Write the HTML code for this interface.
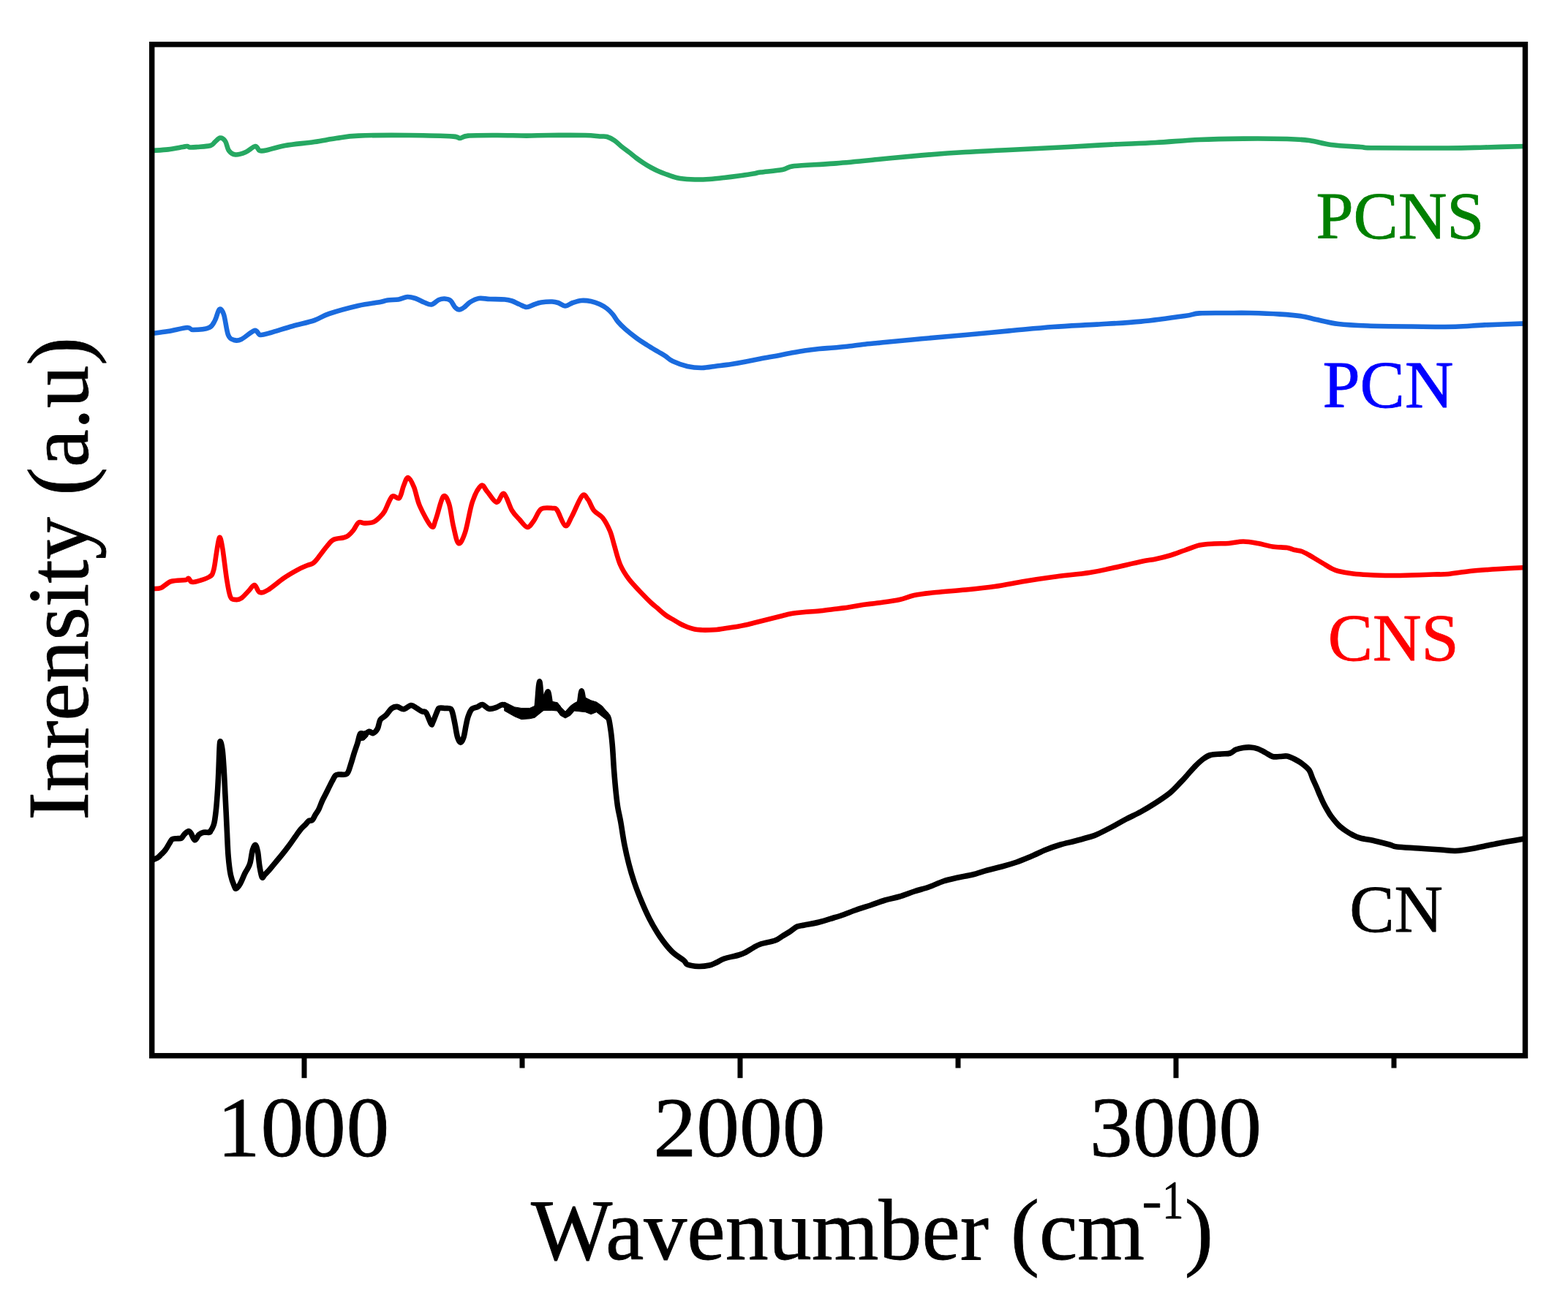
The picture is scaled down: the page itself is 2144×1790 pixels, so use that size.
<!DOCTYPE html>
<html><head><meta charset="utf-8"><title>FTIR spectra</title>
<style>
html,body{margin:0;padding:0;background:#fff;}
body{width:2144px;height:1790px;overflow:hidden;}
svg{display:block;}
text{font-family:"Liberation Serif","Times New Roman",serif;stroke-width:0.8px;stroke-linejoin:round;}
</style></head>
<body>
<svg width="2144" height="1790" viewBox="0 0 2144 1790">
<rect x="0" y="0" width="2144" height="1790" fill="#fff"/>
<defs><clipPath id="plot"><rect x="207.7" y="60.75" width="1877.8" height="1382.9"/></clipPath></defs>
<g clip-path="url(#plot)" fill="none" stroke-linejoin="round" stroke-linecap="round">
<path d="M208.0,206.0 C211.7,205.7 223.0,205.2 230.0,204.4 C237.0,203.6 245.7,201.7 250.0,201.0 C254.3,200.3 254.3,199.9 256.0,200.0 C257.7,200.1 257.7,201.3 260.0,201.5 C262.3,201.7 265.3,201.4 270.0,201.0 C274.7,200.6 284.0,200.2 288.0,199.0 C292.0,197.8 291.8,195.8 294.0,194.0 C296.2,192.2 298.7,188.7 301.0,188.5 C303.3,188.3 306.0,190.1 308.0,193.0 C310.0,195.9 310.7,202.9 313.0,206.0 C315.3,209.1 318.2,211.2 322.0,211.5 C325.8,211.8 331.5,209.9 336.0,208.0 C340.5,206.1 345.8,200.3 349.0,200.0 C352.2,199.7 352.5,205.1 355.0,206.0 C357.5,206.9 358.2,206.8 364.0,205.6 C369.8,204.4 379.0,200.9 390.0,199.0 C401.0,197.1 418.3,195.7 430.0,194.0 C441.7,192.3 450.0,190.4 460.0,189.0 C470.0,187.6 473.3,186.3 490.0,185.6 C506.7,184.9 538.3,184.8 560.0,185.0 C581.7,185.2 608.5,185.9 620.0,186.6 C629.0,187.3 625.7,189.2 629.0,189.0 C632.3,188.8 631.5,186.3 640.0,185.6 C648.5,184.9 666.7,185.0 680.0,185.0 C693.3,185.0 708.3,185.6 720.0,185.6 C731.7,185.6 736.7,185.1 750.0,185.0 C763.3,184.9 788.3,184.8 800.0,185.0 C811.7,185.2 815.0,186.2 820.0,186.5 C825.0,186.8 826.7,186.1 830.0,187.0 C833.3,187.9 836.7,189.8 840.0,192.0 C843.3,194.2 846.7,197.8 850.0,200.5 C853.3,203.2 856.7,205.4 860.0,208.0 C863.3,210.6 866.7,213.5 870.0,216.0 C873.3,218.5 876.7,220.8 880.0,223.0 C883.3,225.2 886.7,227.2 890.0,229.0 C893.3,230.8 896.7,232.5 900.0,234.0 C903.3,235.5 906.7,236.8 910.0,238.0 C913.3,239.2 916.7,240.5 920.0,241.5 C923.3,242.5 925.0,243.3 930.0,244.0 C935.0,244.7 943.3,245.3 950.0,245.5 C956.7,245.7 963.3,245.4 970.0,245.0 C976.7,244.6 983.3,243.8 990.0,243.0 C996.7,242.2 1003.3,241.4 1010.0,240.5 C1016.7,239.6 1025.0,238.3 1030.0,237.5 C1035.0,236.7 1033.3,236.5 1040.0,235.6 C1046.7,234.7 1062.3,233.4 1070.0,232.0 C1077.7,230.6 1074.3,228.4 1086.0,227.0 C1097.7,225.6 1121.0,225.1 1140.0,223.6 C1159.0,222.1 1180.0,219.9 1200.0,218.0 C1220.0,216.1 1240.0,214.1 1260.0,212.4 C1280.0,210.7 1300.0,209.2 1320.0,208.0 C1340.0,206.8 1356.7,206.2 1380.0,205.0 C1403.3,203.8 1436.7,202.2 1460.0,201.0 C1483.3,199.8 1500.0,198.6 1520.0,197.6 C1540.0,196.6 1560.0,196.1 1580.0,195.0 C1600.0,193.9 1620.0,191.9 1640.0,191.0 C1660.0,190.1 1680.0,189.8 1700.0,189.6 C1720.0,189.4 1745.0,189.6 1760.0,190.0 C1775.0,190.4 1780.0,190.7 1790.0,192.0 C1800.0,193.3 1808.3,196.5 1820.0,198.0 C1831.7,199.5 1850.0,200.3 1860.0,201.0 C1870.0,201.7 1860.0,202.1 1880.0,202.3 C1900.0,202.6 1955.0,202.6 1980.0,202.5 C2005.0,202.4 2012.3,201.9 2030.0,201.5 C2047.7,201.1 2076.7,200.2 2086.0,200.0" stroke="#26a862" stroke-width="6.6" />
<path d="M208.0,456.0 C211.7,455.5 222.0,454.3 230.0,453.0 C238.0,451.7 250.3,448.3 256.0,448.0 C261.7,447.7 259.0,451.0 264.0,451.0 C269.0,451.0 281.0,450.2 286.0,448.0 C291.0,445.8 291.7,442.2 294.0,438.0 C296.3,433.8 298.0,424.3 300.0,423.0 C302.0,421.7 304.0,424.2 306.0,430.0 C308.0,435.8 309.7,452.2 312.0,458.0 C314.3,463.8 317.0,464.0 320.0,465.0 C323.0,466.0 325.3,466.2 330.0,464.0 C334.7,461.8 343.7,453.0 348.0,452.0 C352.3,451.0 352.3,457.5 356.0,458.0 C359.7,458.5 362.7,457.0 370.0,455.0 C377.3,453.0 390.0,448.8 400.0,446.0 C410.0,443.2 421.7,440.8 430.0,438.0 C438.3,435.2 440.0,432.3 450.0,429.0 C460.0,425.7 478.3,420.7 490.0,418.0 C501.7,415.3 513.3,414.2 520.0,413.0 C526.7,411.8 525.8,411.1 530.0,410.5 C534.2,409.9 540.5,410.2 545.0,409.5 C549.5,408.8 553.2,406.2 557.0,406.0 C560.8,405.8 564.2,406.8 568.0,408.0 C571.8,409.2 576.3,412.1 580.0,413.5 C583.7,414.9 586.7,417.1 590.0,416.5 C593.3,415.9 597.0,411.3 600.0,410.0 C603.0,408.7 605.3,408.3 608.0,408.5 C610.7,408.7 613.7,409.1 616.0,411.0 C618.3,412.9 620.0,417.9 622.0,420.0 C624.0,422.1 625.8,423.5 628.0,423.5 C630.2,423.5 632.5,421.8 635.0,420.0 C637.5,418.2 639.7,415.0 643.0,413.0 C646.3,411.0 650.5,408.7 655.0,408.0 C659.5,407.3 664.2,408.8 670.0,409.0 C675.8,409.2 685.0,409.1 690.0,409.5 C695.0,409.9 696.7,410.4 700.0,411.5 C703.3,412.6 706.7,414.6 710.0,416.0 C713.3,417.4 716.7,419.9 720.0,420.0 C723.3,420.1 726.7,417.6 730.0,416.5 C733.3,415.4 735.8,414.2 740.0,413.5 C744.2,412.8 751.2,412.4 755.0,412.5 C758.8,412.6 760.0,413.0 763.0,414.0 C766.0,415.0 769.7,418.5 773.0,418.5 C776.3,418.5 779.3,415.2 783.0,414.0 C786.7,412.8 790.8,411.3 795.0,411.0 C799.2,410.7 803.8,411.2 808.0,412.0 C812.2,412.8 816.3,414.3 820.0,416.0 C823.7,417.7 827.0,419.7 830.0,422.0 C833.0,424.3 835.5,427.0 838.0,430.0 C840.5,433.0 842.2,436.7 845.0,440.0 C847.8,443.3 850.8,446.3 855.0,450.0 C859.2,453.7 865.0,458.3 870.0,462.0 C875.0,465.7 880.0,468.8 885.0,472.0 C890.0,475.2 895.8,478.5 900.0,481.0 C904.2,483.5 906.7,484.8 910.0,487.0 C913.3,489.2 915.0,491.7 920.0,494.0 C925.0,496.3 933.3,499.5 940.0,501.0 C946.7,502.5 953.3,503.1 960.0,503.0 C966.7,502.9 973.3,501.3 980.0,500.5 C986.7,499.7 993.3,499.0 1000.0,498.0 C1006.7,497.0 1013.3,495.8 1020.0,494.5 C1026.7,493.2 1033.3,491.8 1040.0,490.5 C1046.7,489.2 1053.3,488.2 1060.0,487.0 C1066.7,485.8 1073.3,484.2 1080.0,483.0 C1086.7,481.8 1093.3,480.5 1100.0,479.5 C1106.7,478.5 1113.3,477.7 1120.0,477.0 C1126.7,476.3 1133.3,476.1 1140.0,475.5 C1146.7,474.9 1153.3,474.2 1160.0,473.5 C1166.7,472.8 1173.3,471.8 1180.0,471.0 C1186.7,470.2 1195.0,469.5 1200.0,469.0 C1205.0,468.5 1200.0,468.9 1210.0,468.0 C1220.0,467.1 1241.7,465.0 1260.0,463.3 C1278.3,461.6 1300.0,459.8 1320.0,458.0 C1340.0,456.2 1360.0,454.2 1380.0,452.4 C1400.0,450.6 1420.0,448.5 1440.0,447.0 C1460.0,445.5 1480.0,444.8 1500.0,443.6 C1520.0,442.4 1540.0,441.5 1560.0,439.6 C1580.0,437.7 1606.7,433.9 1620.0,432.0 C1633.3,430.1 1630.0,429.1 1640.0,428.4 C1650.0,427.7 1668.3,428.1 1680.0,428.0 C1691.7,427.9 1698.3,427.7 1710.0,428.0 C1721.7,428.3 1738.3,428.9 1750.0,429.6 C1761.7,430.3 1771.7,431.2 1780.0,432.4 C1788.3,433.6 1791.7,435.2 1800.0,437.0 C1808.3,438.8 1818.3,441.6 1830.0,443.0 C1841.7,444.4 1853.3,444.9 1870.0,445.5 C1886.7,446.1 1910.0,446.3 1930.0,446.5 C1950.0,446.7 1973.3,447.2 1990.0,446.8 C2006.7,446.4 2014.0,445.1 2030.0,444.4 C2046.0,443.7 2076.7,442.7 2086.0,442.4" stroke="#1a6bde" stroke-width="6.6" />
<path d="M208.0,805.0 C210.0,804.8 215.7,805.7 220.0,804.0 C224.3,802.3 228.3,796.8 234.0,795.0 C239.7,793.2 250.0,793.7 254.0,793.0 C258.0,792.3 256.3,790.5 258.0,791.0 C259.7,791.5 259.3,796.3 264.0,796.0 C268.7,795.7 281.3,791.7 286.0,789.0 C290.7,786.3 290.3,785.5 292.0,780.0 C293.7,774.5 294.7,763.5 296.0,756.0 C297.3,748.5 298.7,736.3 300.0,735.0 C301.3,733.7 302.3,738.5 304.0,748.0 C305.7,757.5 308.2,780.7 310.0,792.0 C311.8,803.3 313.0,811.3 315.0,816.0 C317.0,820.7 319.5,819.7 322.0,820.0 C324.5,820.3 327.0,820.0 330.0,818.0 C333.0,816.0 337.0,811.0 340.0,808.0 C343.0,805.0 345.5,799.7 348.0,800.0 C350.5,800.3 352.0,808.8 355.0,810.0 C358.0,811.2 360.5,810.2 366.0,807.0 C371.5,803.8 381.4,795.1 388.1,790.5 C394.8,785.9 400.9,782.5 406.2,779.6 C411.5,776.7 416.0,774.9 419.8,773.3 C423.6,771.6 425.8,772.1 428.8,769.7 C431.8,767.3 434.9,762.6 437.9,758.8 C440.9,755.0 443.9,750.6 446.9,747.1 C449.9,743.6 452.2,740.0 456.0,738.0 C459.8,736.0 466.2,736.2 469.5,735.3 C472.8,734.4 473.6,734.3 475.9,732.6 C478.2,730.9 480.7,728.3 483.1,725.3 C485.5,722.3 487.8,716.1 490.4,714.5 C493.0,712.9 495.2,715.5 498.5,715.4 C501.8,715.3 506.8,715.4 510.3,714.0 C513.8,712.6 516.7,709.7 519.3,707.2 C521.9,704.7 523.2,703.7 526.0,699.0 C528.8,694.3 532.7,682.0 536.0,679.0 C539.3,676.0 543.3,683.5 546.0,681.0 C548.7,678.5 550.0,668.7 552.0,664.0 C554.0,659.3 555.7,652.7 558.0,653.0 C560.3,653.3 563.3,659.5 566.0,666.0 C568.7,672.5 570.0,683.0 574.0,692.0 C578.0,701.0 586.3,717.0 590.0,720.0 C593.7,723.0 593.3,716.8 596.0,710.0 C598.7,703.2 603.0,682.5 606.0,679.0 C609.0,675.5 611.7,682.2 614.0,689.0 C616.3,695.8 617.8,711.0 620.0,720.0 C622.2,729.0 624.3,741.7 627.0,743.0 C629.7,744.3 632.8,737.5 636.0,728.0 C639.2,718.5 642.3,696.7 646.0,686.0 C649.7,675.3 654.7,666.3 658.0,664.0 C661.3,661.7 662.5,668.2 666.0,672.0 C669.5,675.8 675.2,686.5 679.0,687.0 C682.8,687.5 685.5,673.2 689.0,675.0 C692.5,676.8 696.5,692.2 700.0,698.0 C703.5,703.8 706.5,706.2 710.0,710.0 C713.5,713.8 717.7,720.7 721.0,721.0 C724.3,721.3 726.8,716.2 730.0,712.0 C733.2,707.8 735.7,698.8 740.0,696.0 C744.3,693.2 752.3,694.7 756.0,695.0 C759.7,695.3 759.2,694.0 762.0,698.0 C764.8,702.0 769.7,717.7 773.0,719.0 C776.3,720.3 778.2,712.8 782.0,706.0 C785.8,699.2 792.3,681.8 796.0,678.0 C799.7,674.2 801.3,679.7 804.0,683.0 C806.7,686.3 808.7,693.8 812.0,698.0 C815.3,702.2 820.3,703.3 824.0,708.0 C827.7,712.7 831.3,719.7 834.0,726.0 C836.7,732.3 837.7,738.3 840.0,746.0 C842.3,753.7 844.7,764.3 848.0,772.0 C851.3,779.7 854.7,785.0 860.0,792.0 C865.3,799.0 875.0,808.7 880.0,814.0 C885.0,819.3 886.7,820.9 890.0,824.0 C893.3,827.1 896.7,829.7 900.0,832.5 C903.3,835.3 906.7,838.6 910.0,841.0 C913.3,843.4 916.7,845.0 920.0,847.0 C923.3,849.0 926.7,851.2 930.0,853.0 C933.3,854.8 936.7,856.2 940.0,857.5 C943.3,858.8 946.7,859.8 950.0,860.5 C953.3,861.2 956.7,861.3 960.0,861.5 C963.3,861.7 966.7,861.6 970.0,861.5 C973.3,861.4 976.7,861.3 980.0,861.0 C983.3,860.7 986.7,860.0 990.0,859.5 C993.3,859.0 996.7,858.5 1000.0,858.0 C1003.3,857.5 1006.7,857.1 1010.0,856.5 C1013.3,855.9 1016.7,855.2 1020.0,854.5 C1023.3,853.8 1026.7,852.8 1030.0,852.0 C1033.3,851.2 1036.7,850.3 1040.0,849.5 C1043.3,848.7 1046.7,847.8 1050.0,847.0 C1053.3,846.2 1056.7,845.3 1060.0,844.5 C1063.3,843.7 1066.7,842.8 1070.0,842.0 C1073.3,841.2 1076.7,840.2 1080.0,839.5 C1083.3,838.8 1086.7,838.4 1090.0,838.0 C1093.3,837.6 1095.0,837.4 1100.0,837.0 C1105.0,836.6 1113.3,836.2 1120.0,835.5 C1126.7,834.8 1133.3,833.8 1140.0,833.0 C1146.7,832.2 1153.3,831.5 1160.0,830.5 C1166.7,829.5 1173.3,828.0 1180.0,827.0 C1186.7,826.0 1191.7,825.7 1200.0,824.5 C1208.3,823.3 1221.7,821.8 1230.0,820.0 C1238.3,818.2 1241.7,815.7 1250.0,814.0 C1258.3,812.3 1268.3,811.2 1280.0,810.0 C1291.7,808.8 1306.7,807.8 1320.0,806.5 C1333.3,805.2 1346.7,803.9 1360.0,802.0 C1373.3,800.1 1386.7,797.2 1400.0,795.0 C1413.3,792.8 1425.0,791.0 1440.0,789.0 C1455.0,787.0 1476.7,785.0 1490.0,783.0 C1503.3,781.0 1508.3,779.5 1520.0,777.0 C1531.7,774.5 1550.0,770.1 1560.0,768.0 C1570.0,765.9 1573.3,765.9 1580.0,764.5 C1586.7,763.1 1593.3,761.5 1600.0,759.5 C1606.7,757.5 1613.3,754.8 1620.0,752.5 C1626.7,750.2 1633.3,747.0 1640.0,745.5 C1646.7,744.0 1653.3,743.9 1660.0,743.5 C1666.7,743.1 1673.3,743.5 1680.0,743.0 C1686.7,742.5 1693.3,740.5 1700.0,740.5 C1706.7,740.5 1713.3,741.8 1720.0,743.0 C1726.7,744.2 1733.3,746.5 1740.0,747.5 C1746.7,748.5 1755.0,748.2 1760.0,749.0 C1765.0,749.8 1766.7,751.2 1770.0,752.0 C1773.3,752.8 1776.7,752.8 1780.0,754.0 C1783.3,755.2 1786.7,757.2 1790.0,759.0 C1793.3,760.8 1796.7,763.0 1800.0,765.0 C1803.3,767.0 1806.7,769.0 1810.0,771.0 C1813.3,773.0 1816.7,775.3 1820.0,777.0 C1823.3,778.7 1825.0,779.8 1830.0,781.0 C1835.0,782.2 1843.3,783.7 1850.0,784.5 C1856.7,785.3 1861.7,785.6 1870.0,786.0 C1878.3,786.4 1890.0,786.9 1900.0,787.0 C1910.0,787.1 1920.0,786.8 1930.0,786.5 C1940.0,786.2 1951.7,785.8 1960.0,785.5 C1968.3,785.2 1971.7,785.8 1980.0,785.0 C1988.3,784.2 1998.3,782.2 2010.0,781.0 C2021.7,779.8 2037.3,778.8 2050.0,778.0 C2062.7,777.2 2080.0,776.3 2086.0,776.0" stroke="#ff0000" stroke-width="6.6" />
<path d="M206.0,1177.0 C206.8,1176.7 209.2,1175.7 210.8,1175.0 C212.4,1174.3 213.8,1174.1 215.5,1172.9 C217.2,1171.8 218.9,1169.8 220.7,1168.1 C222.4,1166.3 224.2,1164.8 226.0,1162.4 C227.8,1160.1 229.6,1156.5 231.2,1154.0 C232.8,1151.5 233.7,1148.9 235.4,1147.7 C237.2,1146.5 239.6,1147.0 241.7,1146.7 C243.8,1146.4 246.3,1147.1 248.0,1146.1 C249.7,1145.1 250.5,1142.5 252.1,1140.9 C253.7,1139.3 255.9,1137.0 257.4,1136.7 C258.9,1136.4 259.5,1137.3 261.0,1139.3 C262.5,1141.3 264.5,1148.4 266.3,1148.8 C268.1,1149.2 270.0,1143.2 272.0,1141.4 C274.0,1139.7 275.9,1138.8 278.3,1138.3 C280.7,1137.8 284.6,1138.6 286.2,1138.3 C287.8,1138.0 287.2,1137.3 287.9,1136.3 C288.6,1135.2 289.6,1134.0 290.5,1132.0 C291.4,1130.0 292.2,1129.0 293.1,1124.5 C294.0,1120.0 294.9,1112.5 295.7,1104.8 C296.5,1097.1 297.1,1087.3 297.7,1078.6 C298.2,1069.9 298.6,1062.2 299.0,1052.4 C299.4,1042.6 299.9,1026.0 300.3,1019.7 C300.7,1013.4 301.0,1013.3 301.6,1014.4 C302.2,1015.5 303.4,1019.9 304.2,1026.2 C305.0,1032.5 305.5,1041.5 306.2,1052.4 C306.9,1063.3 307.5,1078.6 308.2,1091.7 C308.9,1104.8 309.5,1118.0 310.1,1131.1 C310.8,1144.2 311.2,1159.5 312.1,1170.4 C313.0,1181.3 314.0,1189.6 315.4,1196.6 C316.8,1203.6 319.3,1209.2 320.6,1212.3 C321.9,1215.3 321.9,1215.6 323.2,1214.9 C324.5,1214.2 326.5,1211.9 328.5,1208.4 C330.5,1204.9 333.3,1197.4 335.0,1194.0 C336.7,1190.6 337.3,1190.3 338.5,1188.0 C339.7,1185.7 340.8,1184.3 342.0,1180.0 C343.2,1175.7 344.2,1166.1 345.5,1162.0 C346.8,1157.9 348.3,1155.0 349.5,1155.5 C350.7,1156.0 351.6,1160.1 352.5,1165.0 C353.4,1169.9 354.0,1179.2 355.0,1185.0 C356.0,1190.8 357.1,1197.9 358.3,1199.7 C359.5,1201.5 360.5,1197.5 362.0,1196.0 C363.5,1194.5 365.0,1193.3 367.4,1190.6 C369.8,1187.9 373.5,1183.2 376.5,1179.6 C379.5,1175.9 382.6,1172.5 385.6,1168.7 C388.7,1164.9 391.8,1160.9 394.8,1156.8 C397.9,1152.7 401.2,1147.8 403.9,1144.0 C406.6,1140.2 408.9,1136.7 411.2,1134.0 C413.5,1131.3 415.8,1129.5 417.6,1127.6 C419.4,1125.7 420.6,1123.5 422.2,1122.5 C423.8,1121.5 425.5,1122.9 427.0,1121.5 C428.5,1120.1 429.8,1116.5 431.3,1114.0 C432.8,1111.5 434.4,1109.7 435.9,1106.6 C437.4,1103.5 438.9,1098.9 440.4,1095.6 C441.9,1092.2 443.5,1089.5 445.0,1086.5 C446.5,1083.5 448.0,1080.4 449.5,1077.4 C451.0,1074.4 452.6,1071.1 454.1,1068.3 C455.6,1065.5 457.2,1062.0 458.7,1060.5 C460.2,1059.0 460.6,1059.4 463.2,1059.0 C465.8,1058.6 471.6,1060.5 474.3,1058.2 C477.0,1055.9 478.0,1049.9 479.6,1045.2 C481.2,1040.5 482.7,1034.8 484.2,1030.0 C485.7,1025.2 487.4,1020.8 488.8,1016.3 C490.2,1011.8 491.1,1005.2 492.6,1003.3 C494.1,1001.4 495.9,1005.5 497.9,1005.0 C499.9,1004.5 502.8,1000.7 504.8,1000.3 C506.8,999.9 508.2,1003.2 510.1,1002.6 C512.0,1002.0 514.6,999.5 516.2,996.5 C517.9,993.5 518.1,987.3 520.0,984.3 C521.9,981.2 525.1,980.8 527.6,978.2 C530.1,975.7 532.7,971.0 535.2,969.0 C537.8,967.0 540.1,966.3 542.9,966.4 C545.7,966.5 548.8,970.1 552.0,969.8 C555.2,969.5 559.0,964.8 561.9,964.5 C564.8,964.2 567.0,966.9 569.5,968.3 C572.0,969.7 574.9,971.9 577.1,972.9 C579.3,973.9 580.5,971.6 582.5,974.4 C584.5,977.2 587.8,987.3 589.3,989.6 C590.8,991.9 590.2,991.1 591.6,988.2 C593.0,985.4 596.4,975.8 597.9,972.5 C599.4,969.2 598.8,969.0 600.5,968.3 C602.2,967.6 605.7,968.3 608.3,968.5 C610.9,968.7 614.4,967.9 616.2,969.3 C618.0,970.7 618.2,972.9 619.3,976.7 C620.3,980.6 621.5,987.2 622.5,992.4 C623.5,997.6 624.4,1004.3 625.6,1008.1 C626.8,1011.9 628.4,1015.4 629.8,1015.4 C631.2,1015.4 632.8,1011.9 634.0,1008.1 C635.2,1004.3 636.1,997.2 637.1,992.4 C638.1,987.6 638.9,983.1 640.3,979.3 C641.7,975.4 643.4,971.4 645.5,969.3 C647.6,967.2 650.5,967.7 652.9,966.7 C655.3,965.8 657.1,963.2 659.7,963.6 C662.3,964.0 665.4,968.7 668.6,969.3 C671.8,969.9 676.1,968.2 679.1,967.2 C682.1,966.2 684.3,963.7 686.9,963.6 C689.5,963.5 692.0,965.1 694.8,966.7 C697.6,968.3 700.7,971.9 703.7,973.4 C706.7,974.9 709.5,975.6 712.9,976.0 C716.3,976.4 721.3,976.0 724.3,975.6 C727.3,975.2 729.5,974.7 731.1,973.4 C732.7,972.1 732.9,974.9 734.0,968.0 C735.1,961.1 736.4,932.7 737.6,932.0 C738.8,931.3 740.0,958.3 741.0,964.0 C742.0,969.7 742.0,969.0 743.3,966.0 C744.6,963.0 747.5,946.7 749.0,946.0 C750.5,945.3 751.5,958.8 752.5,962.0 C753.5,965.2 753.1,964.6 754.8,965.4 C756.4,966.1 760.5,965.4 762.4,966.5 C764.3,967.6 764.4,970.4 766.2,972.2 C768.0,974.0 770.7,977.6 773.0,977.5 C775.3,977.4 777.9,973.6 779.9,971.8 C781.9,970.0 783.2,968.5 785.2,966.9 C787.2,965.3 790.4,965.6 792.0,962.0 C793.6,958.4 794.0,945.7 795.0,945.0 C796.0,944.3 797.1,954.9 798.0,958.0 C798.9,961.1 798.8,962.4 800.5,963.9 C802.2,965.4 805.6,966.8 808.1,967.3 C810.6,967.8 813.2,966.0 815.7,966.9 C818.2,967.8 821.2,971.1 823.3,972.6 C825.3,974.1 826.5,974.3 828.0,976.0 C829.5,977.7 831.1,978.4 832.3,982.6 C833.5,986.8 834.5,994.5 835.4,1001.0 C836.3,1007.5 836.8,1013.0 837.5,1021.6 C838.2,1030.2 838.7,1042.2 839.5,1052.5 C840.3,1062.8 841.3,1074.8 842.2,1083.3 C843.1,1091.8 843.6,1096.9 844.7,1103.8 C845.8,1110.7 847.3,1115.8 848.8,1124.4 C850.3,1133.0 852.0,1145.6 853.9,1155.2 C855.8,1164.8 857.8,1173.4 860.0,1182.0 C862.2,1190.6 864.4,1198.0 867.3,1206.6 C870.2,1215.1 874.1,1225.1 877.5,1233.3 C880.9,1241.5 883.7,1248.0 887.8,1255.9 C891.9,1263.8 897.1,1273.0 902.2,1280.5 C907.3,1288.0 913.1,1295.5 918.6,1301.0 C924.1,1306.5 931.4,1310.4 935.0,1313.4 C938.6,1316.4 936.7,1317.7 940.0,1319.0 C943.3,1320.3 950.0,1321.3 955.0,1321.5 C960.0,1321.7 965.8,1320.9 970.0,1320.0 C974.2,1319.1 976.7,1317.5 980.0,1316.0 C983.3,1314.5 985.0,1312.7 990.0,1311.0 C995.0,1309.3 1005.0,1307.5 1010.0,1306.0 C1015.0,1304.5 1016.7,1303.7 1020.0,1302.0 C1023.3,1300.3 1026.7,1297.8 1030.0,1296.0 C1033.3,1294.2 1035.0,1292.7 1040.0,1291.0 C1045.0,1289.3 1055.0,1287.8 1060.0,1286.0 C1065.0,1284.2 1066.7,1282.0 1070.0,1280.0 C1073.3,1278.0 1076.7,1276.2 1080.0,1274.0 C1083.3,1271.8 1086.7,1268.5 1090.0,1267.0 C1093.3,1265.5 1095.0,1266.0 1100.0,1265.0 C1105.0,1264.0 1113.3,1262.7 1120.0,1261.0 C1126.7,1259.3 1135.0,1256.5 1140.0,1255.0 C1145.0,1253.5 1145.0,1253.8 1150.0,1252.0 C1155.0,1250.2 1163.3,1246.8 1170.0,1244.5 C1176.7,1242.2 1183.3,1240.2 1190.0,1238.0 C1196.7,1235.8 1203.3,1233.0 1210.0,1231.0 C1216.7,1229.0 1223.3,1228.0 1230.0,1226.0 C1236.7,1224.0 1243.3,1221.2 1250.0,1219.0 C1256.7,1216.8 1263.3,1215.3 1270.0,1213.0 C1276.7,1210.7 1283.3,1207.2 1290.0,1205.0 C1296.7,1202.8 1303.3,1201.5 1310.0,1200.0 C1316.7,1198.5 1323.3,1197.7 1330.0,1196.0 C1336.7,1194.3 1343.3,1191.8 1350.0,1190.0 C1356.7,1188.2 1363.3,1186.8 1370.0,1185.0 C1376.7,1183.2 1383.3,1181.3 1390.0,1179.0 C1396.7,1176.7 1403.3,1173.8 1410.0,1171.0 C1416.7,1168.2 1423.3,1164.7 1430.0,1162.0 C1436.7,1159.3 1443.3,1157.0 1450.0,1155.0 C1456.7,1153.0 1463.3,1151.8 1470.0,1150.0 C1476.7,1148.2 1485.0,1146.0 1490.0,1144.5 C1495.0,1143.0 1495.0,1143.2 1500.0,1141.0 C1505.0,1138.8 1513.3,1134.5 1520.0,1131.0 C1526.7,1127.5 1533.3,1123.5 1540.0,1120.0 C1546.7,1116.5 1553.3,1113.7 1560.0,1110.0 C1566.7,1106.3 1573.3,1102.3 1580.0,1098.0 C1586.7,1093.7 1594.2,1088.8 1600.0,1084.0 C1605.8,1079.2 1610.8,1073.3 1615.0,1069.0 C1619.2,1064.7 1621.7,1061.7 1625.0,1058.0 C1628.3,1054.3 1631.7,1050.3 1635.0,1047.0 C1638.3,1043.7 1641.7,1040.4 1645.0,1038.0 C1648.3,1035.6 1650.8,1033.7 1655.0,1032.5 C1659.2,1031.3 1665.5,1031.4 1670.0,1031.0 C1674.5,1030.6 1678.7,1031.0 1682.0,1030.0 C1685.3,1029.0 1687.0,1026.2 1690.0,1025.0 C1693.0,1023.8 1696.7,1023.0 1700.0,1022.5 C1703.3,1022.0 1706.7,1021.8 1710.0,1022.0 C1713.3,1022.2 1716.7,1022.8 1720.0,1024.0 C1723.3,1025.2 1726.7,1027.2 1730.0,1029.0 C1733.3,1030.8 1736.7,1033.6 1740.0,1034.5 C1743.3,1035.4 1746.7,1034.6 1750.0,1034.5 C1753.3,1034.4 1756.7,1033.4 1760.0,1034.0 C1763.3,1034.6 1766.7,1036.3 1770.0,1038.0 C1773.3,1039.7 1776.7,1041.5 1780.0,1044.0 C1783.3,1046.5 1787.5,1049.5 1790.0,1053.0 C1792.5,1056.5 1793.3,1061.2 1795.0,1065.0 C1796.7,1068.8 1798.3,1072.2 1800.0,1076.0 C1801.7,1079.8 1803.3,1084.2 1805.0,1088.0 C1806.7,1091.8 1808.3,1095.7 1810.0,1099.0 C1811.7,1102.3 1813.3,1105.2 1815.0,1108.0 C1816.7,1110.8 1817.5,1112.7 1820.0,1116.0 C1822.5,1119.3 1826.7,1124.7 1830.0,1128.0 C1833.3,1131.3 1836.7,1133.7 1840.0,1136.0 C1843.3,1138.3 1846.7,1140.3 1850.0,1142.0 C1853.3,1143.7 1855.0,1144.7 1860.0,1146.0 C1865.0,1147.3 1873.3,1148.5 1880.0,1150.0 C1886.7,1151.5 1895.0,1153.7 1900.0,1155.0 C1905.0,1156.3 1903.3,1157.2 1910.0,1158.0 C1916.7,1158.8 1930.0,1159.3 1940.0,1160.0 C1950.0,1160.7 1961.7,1161.4 1970.0,1162.0 C1978.3,1162.6 1983.3,1163.7 1990.0,1163.5 C1996.7,1163.3 2000.0,1162.8 2010.0,1161.0 C2020.0,1159.2 2036.7,1155.5 2050.0,1153.0 C2063.3,1150.5 2083.3,1147.2 2090.0,1146.0" stroke="#000000" stroke-width="7.6" />
<path d="M690.0,960.2 L703.7,966.9 L712.9,968.4 L724.3,968.4 L731.1,965.4 L743.3,960.8 L754.8,959.3 L762.4,960.8 L766.2,966.2 L773.0,973.0 L779.9,965.4 L785.2,961.6 L800.5,954.0 L808.1,957.8 L815.7,960.1 L823.3,965.4 L831.0,974.5 L831.0,985.8 L823.3,979.8 L815.7,973.7 L808.1,976.7 L800.5,973.7 L785.2,972.1 L779.9,978.2 L773.0,982.0 L766.2,978.2 L762.4,972.1 L754.8,971.4 L743.3,971.4 L731.1,981.3 L724.3,982.8 L712.9,983.6 L703.7,979.8 L690.0,972.1 Z" fill="#000" stroke="#000" stroke-width="1" stroke-linejoin="round" />
<path d="M489.0,1004.2 L493.0,1000.0 L498.0,1000.0 L503.0,998.2 L503.0,1006.8 L498.0,1012.0 L493.0,1012.8 L489.0,1015.8 Z" fill="#000" stroke="#000" stroke-width="1" stroke-linejoin="round" />
</g>
<g stroke="#000" stroke-width="7.4" fill="none">
<rect x="207.7" y="60.75" width="1877.8" height="1382.9" />
<line x1="416.0" y1="1443.7" x2="416.0" y2="1474.2" stroke-width="7" /><line x1="714.0" y1="1443.7" x2="714.0" y2="1460.5" stroke-width="7" /><line x1="1012.0" y1="1443.7" x2="1012.0" y2="1474.2" stroke-width="7" /><line x1="1310.0" y1="1443.7" x2="1310.0" y2="1460.5" stroke-width="7" /><line x1="1608.0" y1="1443.7" x2="1608.0" y2="1474.2" stroke-width="7" /><line x1="1906.0" y1="1443.7" x2="1906.0" y2="1460.5" stroke-width="7" />
</g>
<g font-size="117.5" fill="#000" stroke="#000" text-anchor="middle">
<text x="297 356.5 414.1 473.5" y="1580.5" text-anchor="start">1000</text>
<text x="1010.95" y="1580.5">2000</text>
<text x="1607.4" y="1580.5">3000</text>
</g>
<text y="1722" font-size="118" fill="#000" stroke="#000"><tspan x="726">Wavenumber (cm</tspan><tspan x="1619.7" y="1722">)</tspan></text>
<text transform="translate(1575,1663.8) scale(1.2,1)" x="0" y="0" font-size="68" text-anchor="middle" fill="#000" stroke="#000">-</text>
<text transform="translate(1603.75,1665.5) scale(0.8,1)" x="0" y="0" font-size="73" text-anchor="middle" fill="#000" stroke="#000">1</text>
<text transform="translate(119.8,1121.7) rotate(-90) scale(0.993,1)" x="0" y="0" font-size="117.5" fill="#000" stroke="#000">Inrensity (a.u)</text>
<g font-size="92">
<text x="1799.4" y="326" fill="#008000" stroke="#008000">PCNS</text>
<text x="1808.4" y="557" fill="#0000ff" stroke="#0000ff">PCN</text>
<text x="1815.7" y="902.5" fill="#ff0000" stroke="#ff0000">CNS</text>
<text x="1845.2" y="1273.5" fill="#000" stroke="#000">CN</text>
</g>
</svg>
</body></html>
